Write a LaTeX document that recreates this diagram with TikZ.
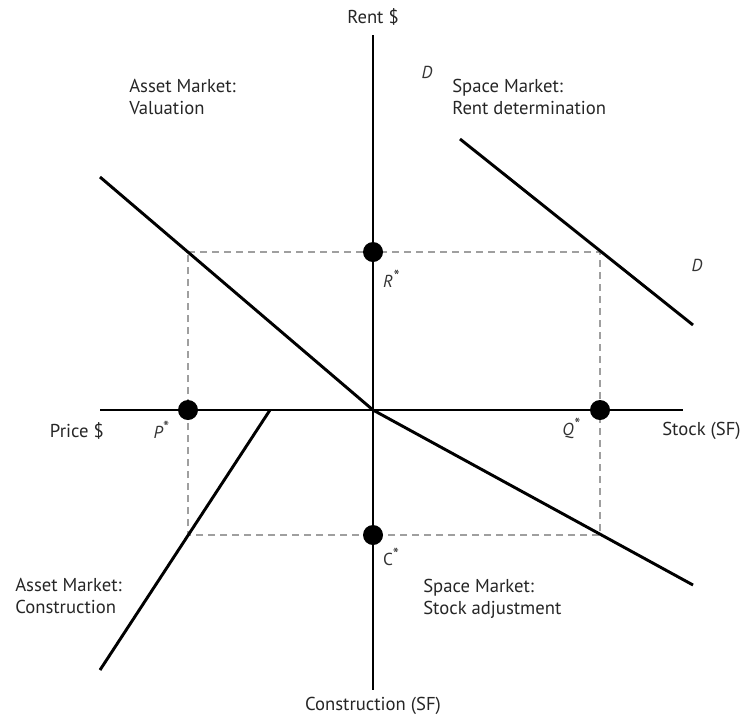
\documentclass[tikz,border=0pt]{standalone}
\usepackage{fontspec}
\setmainfont{PT Sans}
\usetikzlibrary{positioning}

\newcommand{\eqstar}[1]{#1\raisebox{0.55ex}{\fontsize{13}{13}\selectfont*}}

\begin{document}
\begin{tikzpicture}[x=0.75pt,y=-0.75pt,
  axis/.style={line width=1.4pt},
  curve/.style={line width=2.2pt},
  guide/.style={gray!75,line width=1.1pt,dash pattern=on 5pt off 4pt},
  dot/.style={circle,fill=black,inner sep=0pt,minimum size=15pt},
  market/.style={align=left,anchor=north west,inner sep=0pt,text=black!85,
    font=\fontsize{14}{16.5}\selectfont},
  axislabel/.style={inner sep=0pt,text=black!85,font=\fontsize{14}{16}\selectfont},
  eqlabel/.style={inner sep=0pt,text=black!80,font=\itshape\fontsize{13}{15}\selectfont}]

    \useasboundingbox (0,0) rectangle (741,719);

    % axes
    \coordinate (o) at (373,410);
    \coordinate (ytop) at (373,35);
    \coordinate (ybot) at (373,690);
    \coordinate (xleft) at (100,410);
    \coordinate (xright) at (683,410);

    % equilibrium rectangle
    \coordinate (nw) at (188,252);
    \coordinate (ne) at (600,252);
    \coordinate (se) at (600,535);
    \coordinate (sw) at (188,535);
    \draw[guide] (nw) -- (ne) -- (se) -- (sw) -- cycle;

    \draw[axis] (ytop) -- (ybot);
    \draw[axis] (xleft) -- (xright);

    \node[axislabel] (rent) at (373,17) {Rent \$};
    \node[axislabel] (constr) at (373,706) {Construction (SF)};
    \node[axislabel,anchor=east] (price) at (104,431) {Price \$};
    \node[axislabel,anchor=west] (stock) at (662,431) {Stock (SF)};

    % the four curves
    \coordinate (val0) at (100,177);
    \coordinate (dem0) at (460,139);
    \coordinate (dem1) at (693,325);
    \coordinate (con0) at (270,410);
    \coordinate (con1) at (100,670);
    \coordinate (stk1) at (693,585);
    \draw[curve] (val0) -- (o);
    \draw[curve] (dem0) -- (dem1);
    \draw[curve] (con0) -- (con1);
    \draw[curve] (o) -- (stk1);

    \node[eqlabel] (d1) at (427,72) {D};
    \node[eqlabel] (d2) at (697,265) {D};

    % equilibrium points
    \node[dot] (pstar) at (188,410) {};
    \node[dot] (qstar) at (600,410) {};
    \node[dot] (rstar) at (373,252) {};
    \node[dot] (cstar) at (373,535) {};
    \node[eqlabel] (plab) at (161,430) {\eqstar{P}};
    \node[eqlabel] (qlab) at (571,428) {\eqstar{Q}};
    \node[eqlabel] (rlab) at (391,279) {\eqstar{R}};
    \node[eqlabel,font=\fontsize{13}{15}\selectfont] (clab) at (391,557) {\eqstar{C}};

    % quadrant names
    \node[market] (valuation) at (129,79) {Asset Market:\\Valuation};
    \node[market] (rentdet) at (452,79) {Space Market:\\Rent determination};
    \node[market] (construction) at (15,578) {Asset Market:\\Construction};
    \node[market] (stockadj) at (423,579) {Space Market:\\Stock adjustment};
\end{tikzpicture}
\end{document}
